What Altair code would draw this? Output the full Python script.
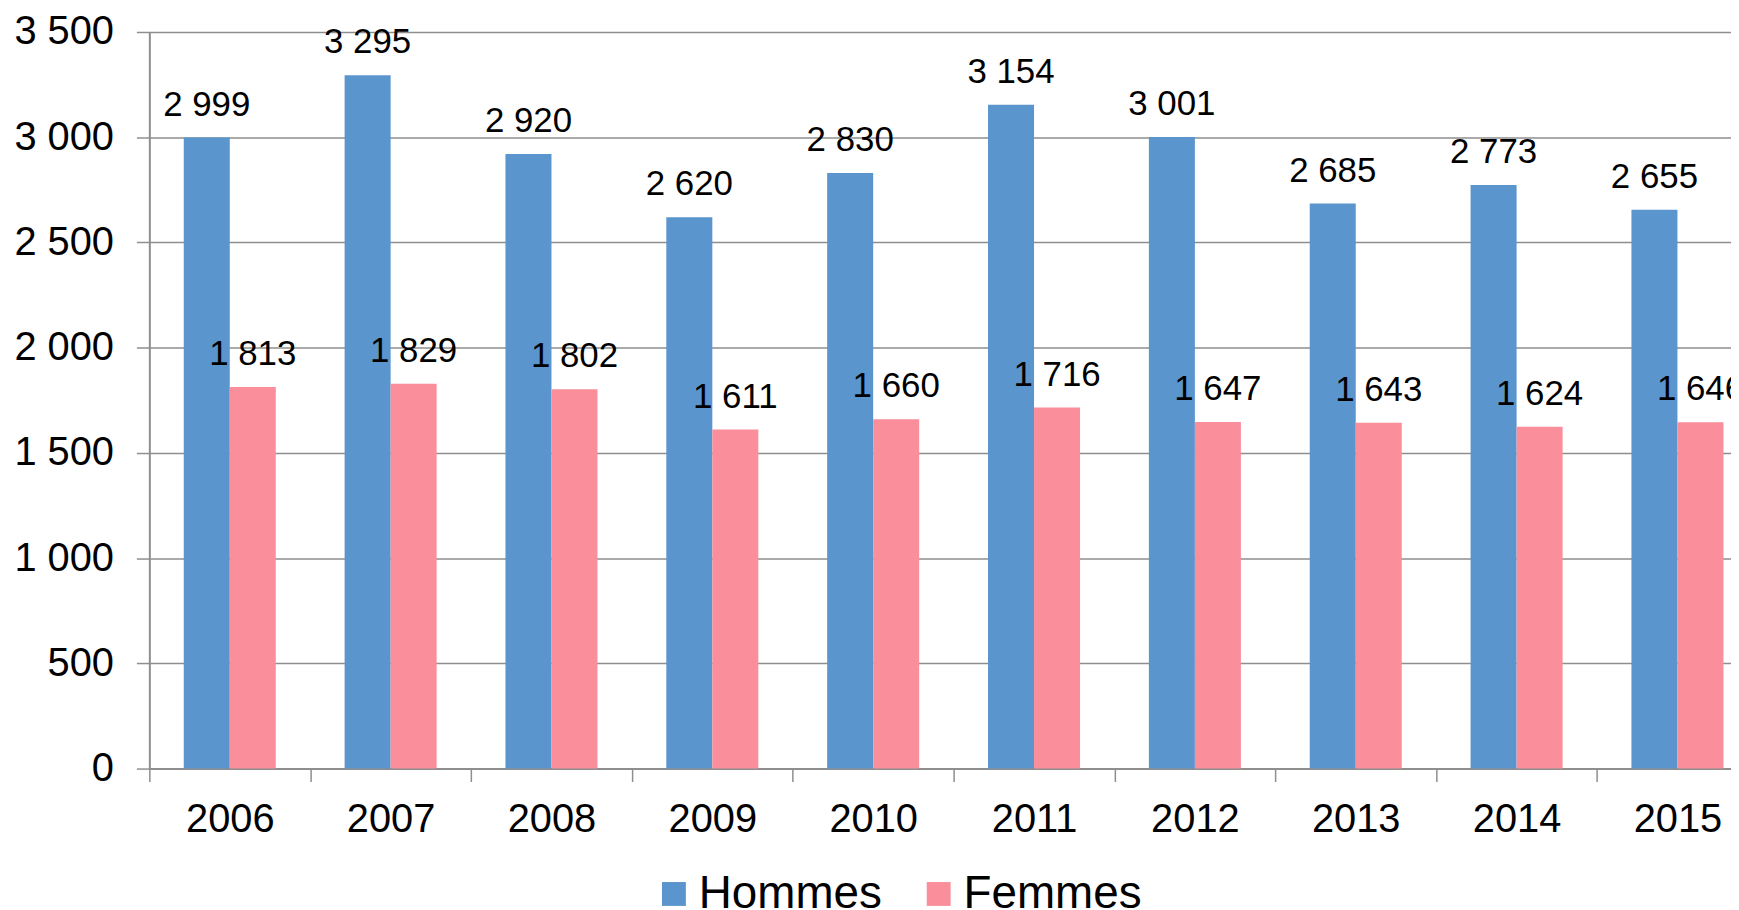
import altair as alt
import pandas as pd

years = ["2006", "2007", "2008", "2009", "2010", "2011", "2012", "2013", "2014", "2015"]
hommes = [2999, 3295, 2920, 2620, 2830, 3154, 3001, 2685, 2773, 2655]
femmes = [1813, 1829, 1802, 1611, 1660, 1716, 1647, 1643, 1624, 1646]
series = ["Hommes", "Femmes"]
colors = ["#5B95CE", "#FA8E9B"]
y_ticks = [0, 500, 1000, 1500, 2000, 2500, 3000, 3500]

df = pd.DataFrame({
    "Année": years * 2,
    "Sexe": [series[0]] * len(years) + [series[1]] * len(years),
    "Valeur": hommes + femmes,
})

FONT = "Liberation Sans"
GRID = "#8E8E8E"

x_enc = alt.X("Année:N", sort=years,
              scale=alt.Scale(domain=years, range=[0, 1616], paddingInner=0, paddingOuter=0),
              axis=alt.Axis(title=None, labelAngle=0, tickBand="extent", tickSize=13,
                            tickColor=GRID, tickWidth=1.5, domainColor=GRID, domainWidth=2,
                            labelFont=FONT, labelFontSize=40, labelColor="#000000",
                            labelPadding=18, grid=False))
xo_enc = alt.XOffset("Sexe:N", sort=series,
                     scale=alt.Scale(domain=series, paddingOuter=0.748, paddingInner=0))
y_enc = alt.Y("Valeur:Q",
              scale=alt.Scale(domain=[0, 3500], nice=False),
              axis=alt.Axis(title=None, values=y_ticks, grid=True, gridColor=GRID, gridWidth=1.5,
                            tickSize=13, tickColor=GRID, tickWidth=1.5, domainColor=GRID,
                            domainWidth=2, labelFont=FONT, labelFontSize=40,
                            labelColor="#000000", labelPadding=23,
                            labelExpr="replace(format(datum.value, ','), ',', ' ')"))

bars = alt.Chart(df).mark_bar().encode(
    x=x_enc,
    xOffset=xo_enc,
    y=y_enc,
    color=alt.Color("Sexe:N", sort=series,
                    scale=alt.Scale(domain=series, range=colors),
                    legend=alt.Legend(title=None, orient="none", legendX=504, legendY=843,
                                      direction="horizontal", columns=2, columnPadding=33,
                                      symbolType="square", symbolSize=576, symbolStrokeWidth=0,
                                      labelFont=FONT, labelFontSize=46, labelColor="#000000",
                                      labelOffset=2, labelLimit=0, padding=0)),
)

labels = alt.Chart(df).transform_calculate(
    lab="replace(format(datum.Valeur, ','), ',', ' ')"
).mark_text(font=FONT, fontSize=35, color="#000000", dy=-22, baseline="alphabetic",
            align="center").encode(
    x=alt.X("Année:N", sort=years),
    xOffset=alt.XOffset("Sexe:N", sort=series),
    y=alt.Y("Valeur:Q"),
    text="lab:N",
)

chart = alt.layer(bars, labels).properties(
    width=1589,
    height=740,
    autosize=alt.AutoSizeParams(type="none"),
    padding={"left": 142, "top": 22, "right": 0, "bottom": 140},
).configure_view(stroke="transparent")

chart.save("out.html", embed_options={"renderer": "svg", "actions": False})
